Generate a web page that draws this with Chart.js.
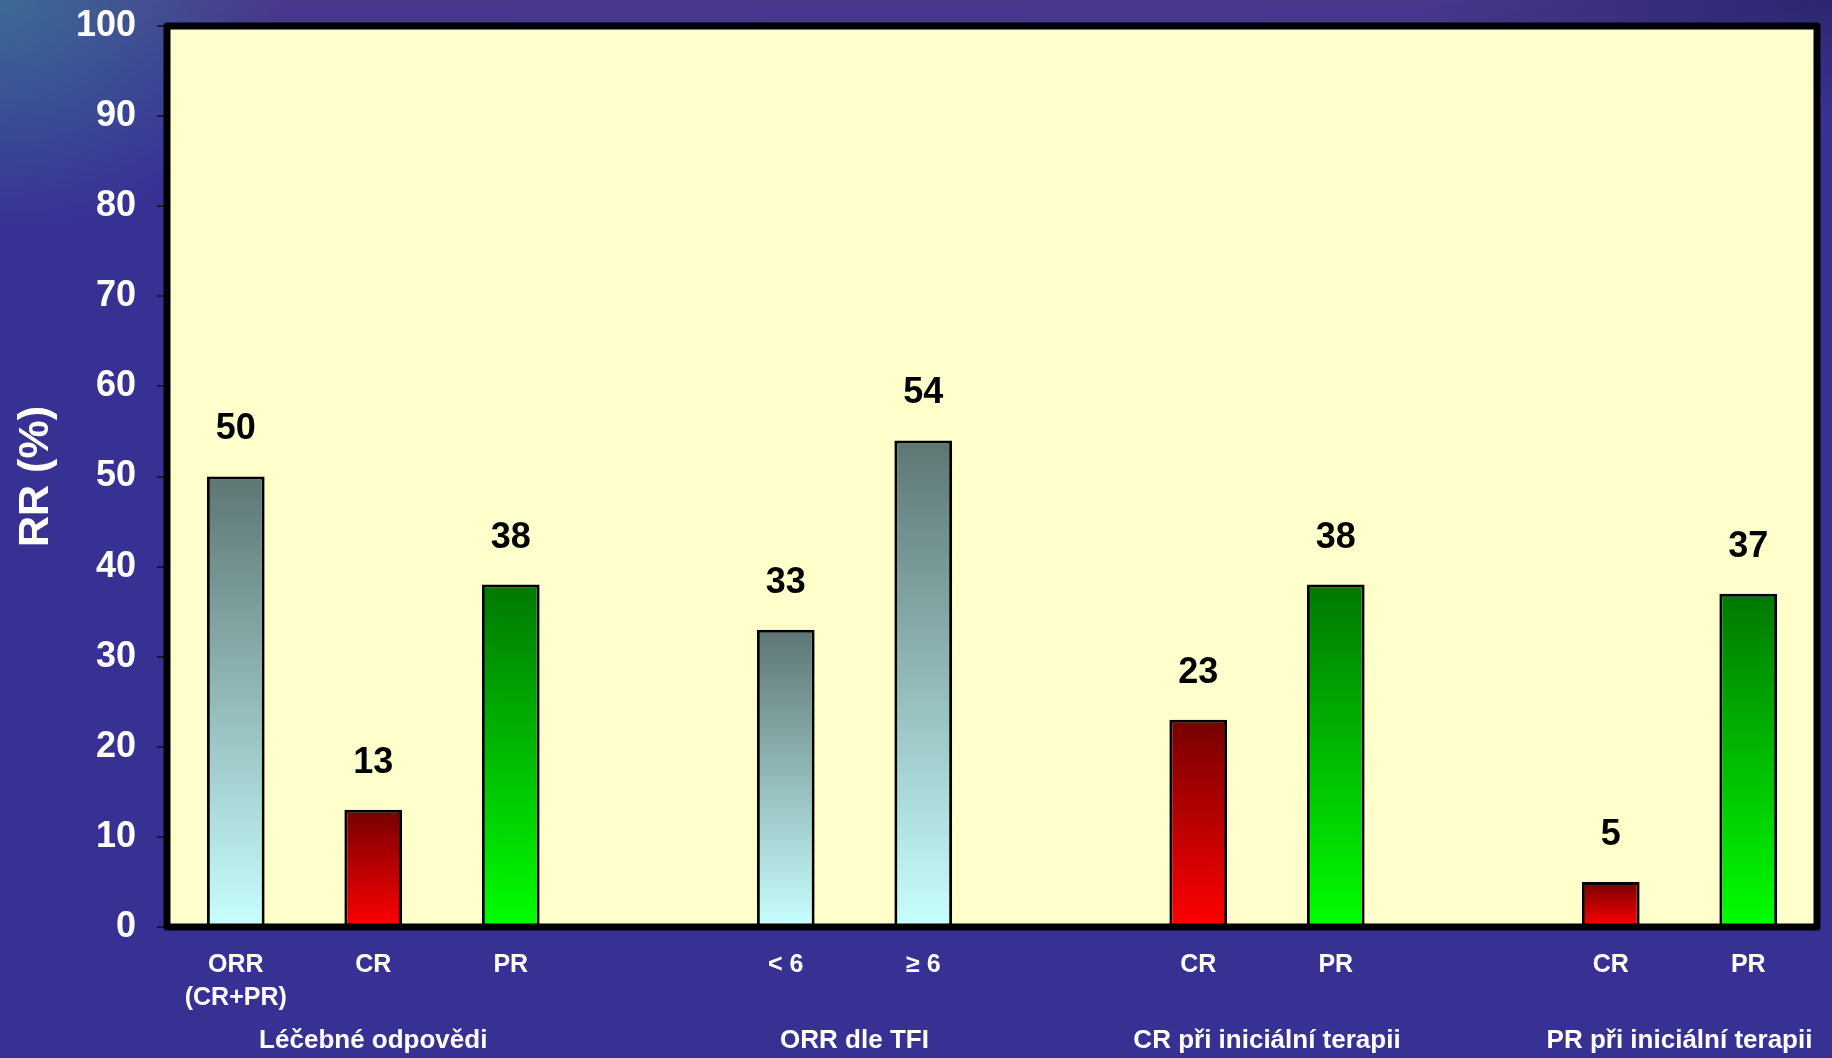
<!DOCTYPE html>
<html>
<head>
<meta charset="utf-8">
<script src="https://cdn.jsdelivr.net/npm/chart.js@4.4.1/dist/chart.umd.min.js"></script>
<style>
    html, body {
        margin: 0;
        padding: 0;
    }
    body {
        width: 1832px;
        height: 1058px;
        overflow: hidden;
        background:
            radial-gradient(ellipse 280px 230px at 0 0, rgba(58, 112, 150, 0.9), rgba(58, 112, 150, 0)),
            radial-gradient(ellipse 420px 120px at 100% 0, rgba(40, 36, 110, 0.9), rgba(40, 36, 110, 0)),
            linear-gradient(to bottom, #4a388c 0px, #3c3294 70px, #383194 140px, #383194 100%);
    }
    #wrap {
        position: relative;
        width: 1832px;
        height: 1058px;
    }
</style>
</head>
<body>
<div id="wrap"><canvas id="rrChart"></canvas></div>
<script>
// Chart data
const categories = [['ORR', '(CR+PR)'], 'CR', 'PR', '', '< 6', '≥ 6', '', 'CR', 'PR', '', 'CR', 'PR'];
const rrValues = [50, 13, 38, null, 33, 54, null, 23, 38, null, 5, 37];
const barKinds = ['orr', 'cr', 'pr', null, 'orr', 'orr', null, 'cr', 'pr', null, 'cr', 'pr'];
const groupNames = ['Léčebné odpovědi', 'ORR dle TFI', 'CR při iniciální terapii', 'PR při iniciální terapii'];
const groupCenters = [1, 4.5, 7.5, 10.5];

const FONT = '"Liberation Sans", Arial, sans-serif';

// top / bottom colour of each gradient bar
const kindColors = {
    orr: ['#5d7674', '#c8ffff'],
    cr: ['#760000', '#ff0000'],
    pr: ['#007800', '#00ff00']
};

function barGradient(context) {
    const chart = context.chart;
    const area = chart.chartArea;
    const value = context.raw;
    const kind = barKinds[context.dataIndex];
    if (!area || value == null || !kind) {
        return 'rgba(0,0,0,0)';
    }
    const yScale = chart.scales.y;
    const top = yScale.getPixelForValue(value);
    const base = yScale.getPixelForValue(0);
    const grad = chart.ctx.createLinearGradient(0, top, 0, base);
    grad.addColorStop(0, kindColors[kind][0]);
    grad.addColorStop(1, kindColors[kind][1]);
    return grad;
}

// yellow plot area + thick black frame
const plotFrame = {
    id: 'plotFrame',
    beforeDatasetsDraw(chart) {
        const {ctx, chartArea: a} = chart;
        ctx.save();
        ctx.fillStyle = '#ffffcc';
        ctx.fillRect(a.left, a.top, a.right - a.left, a.bottom - a.top);
        ctx.restore();
    },
    afterDatasetsDraw(chart) {
        const {ctx, chartArea: a} = chart;
        ctx.save();
        ctx.strokeStyle = '#000';
        ctx.lineWidth = 7;
        ctx.lineJoin = 'round';
        ctx.strokeRect(a.left, a.top, a.right - a.left, a.bottom - a.top);
        ctx.restore();
    }
};

// values above bars
const valueLabels = {
    id: 'valueLabels',
    afterDatasetsDraw(chart) {
        const ctx = chart.ctx;
        const meta = chart.getDatasetMeta(0);
        ctx.save();
        ctx.font = 'bold 36px ' + FONT;
        ctx.fillStyle = '#000';
        ctx.textAlign = 'center';
        ctx.textBaseline = 'middle';
        meta.data.forEach((bar, i) => {
            const v = rrValues[i];
            if (v == null) return;
            ctx.fillText(String(v), bar.x, bar.y - 47);
        });
        ctx.restore();
    }
};

// group captions under the category labels
const groupLabels = {
    id: 'groupLabels',
    afterDraw(chart) {
        const ctx = chart.ctx;
        const xScale = chart.scales.x;
        ctx.save();
        ctx.font = 'bold 26px ' + FONT;
        ctx.fillStyle = '#fff';
        ctx.textAlign = 'center';
        ctx.textBaseline = 'middle';
        groupNames.forEach((name, i) => {
            ctx.fillText(name, xScale.getPixelForValue(groupCenters[i]), 1041);
        });
        ctx.restore();
    }
};

const ctx = document.getElementById('rrChart').getContext('2d');
new Chart(ctx, {
    type: 'bar',
    data: {
        labels: categories,
        datasets: [{
            data: rrValues,
            backgroundColor: barGradient,
            borderColor: '#000',
            borderWidth: 3,
            borderSkipped: 'bottom',
            categoryPercentage: 1,
            barPercentage: 0.42
        }]
    },
    options: {
        responsive: true,
        maintainAspectRatio: false,
        animation: false,
        layout: {
            padding: { top: 26, right: 15, left: 0, bottom: 0 }
        },
        plugins: {
            legend: { display: false },
            tooltip: { enabled: false }
        },
        scales: {
            x: {
                grid: { display: false, drawTicks: false },
                border: { display: false },
                ticks: {
                    color: '#fff',
                    padding: 22,
                    maxRotation: 0,
                    autoSkip: false,
                    font: { family: FONT, size: 25, weight: 'bold', lineHeight: 1.3 }
                },
                afterFit(scale) {
                    scale.height = 131;
                    scale.paddingLeft = 0;
                    scale.paddingRight = 0;
                }
            },
            y: {
                min: 0,
                max: 100,
                grid: {
                    drawOnChartArea: false,
                    drawTicks: true,
                    tickLength: 10,
                    color: '#1a1a2a',
                    lineWidth: 2
                },
                border: { display: false },
                ticks: {
                    stepSize: 10,
                    color: '#fff',
                    padding: 21,
                    font: { family: FONT, size: 36, weight: 'bold' }
                },
                title: {
                    display: true,
                    text: 'RR (%)',
                    color: '#fff',
                    padding: { top: 10, bottom: 0 },
                    font: { family: FONT, size: 43, weight: 'bold' }
                },
                afterFit(scale) {
                    scale.width = 167;
                    scale.paddingTop = 0;
                    scale.paddingBottom = 0;
                }
            }
        }
    },
    plugins: [plotFrame, valueLabels, groupLabels]
});
</script>
</body>
</html>
